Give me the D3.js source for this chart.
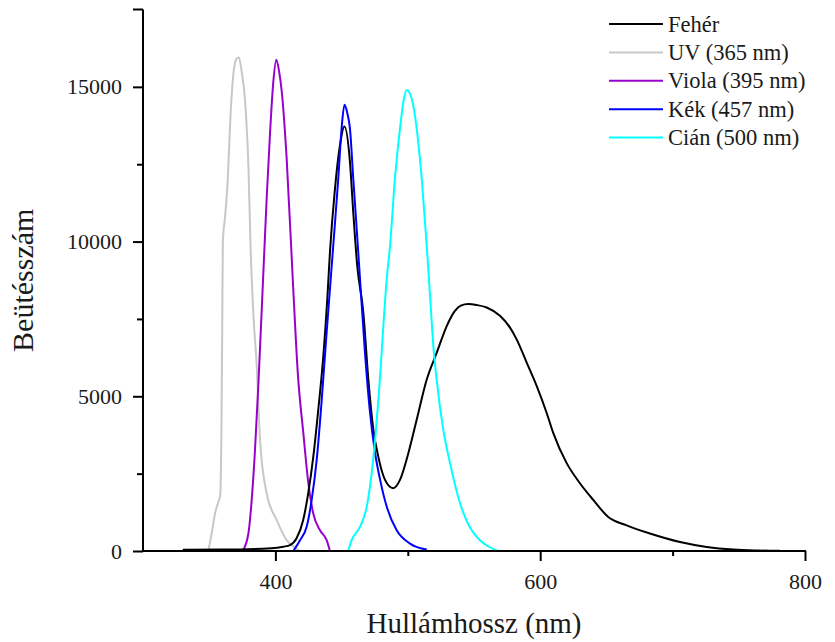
<!DOCTYPE html>
<html>
<head>
<meta charset="utf-8">
<script src="https://cdn.jsdelivr.net/npm/d3@7"></script>
<style>
  html, body { margin: 0; padding: 0; background: #fff; }
  svg { display: block; }
  text { font-family: "Liberation Serif", "Times New Roman", serif; fill: #1a1a1a; }
</style>
</head>
<body>
<svg id="chart" width="835" height="642"></svg>
<script>
// ---- data (wavelength nm, counts) ----
const seriesNames = ["Fehér", "UV (365 nm)", "Viola (395 nm)", "Kék (457 nm)", "Cián (500 nm)"];
const seriesColors = ["#000000", "#c8c8c8", "#9900cc", "#0000ff", "#00ffff"];

const feherX = [330, 360, 397, 406, 411, 416, 421, 424.8, 428.6, 432.4, 436.2, 439.2, 441.2, 445, 448.8, 452.1, 456.3, 458.8, 461.8, 466.4, 470.2, 474, 477.7, 482.8, 489, 494.1, 500.4, 506.7, 514.3, 521.8, 529.4, 535.6, 540, 545.7, 552, 559.6, 569.6, 577.2, 582.2, 589.8, 597.4, 604.9, 609.9, 620, 630, 640.1, 651.4, 665.3, 682.9, 705.6, 725.8, 745.9, 765, 781];
const feherY = [40, 45, 90, 140, 190, 410, 1000, 1870, 3040, 4570, 6300, 8140, 9650, 11710, 13120, 13720, 12580, 10950, 9220, 7710, 5540, 3920, 3050, 2300, 2030, 2300, 3160, 4240, 5540, 6400, 7270, 7760, 7930, 7980, 7950, 7870, 7600, 7220, 6840, 6090, 5330, 4460, 3810, 2840, 2190, 1650, 1100, 830, 565, 290, 130, 45, 15, 5];

const uvX = [349.3, 352, 354.4, 357, 358.3, 359.2, 359.8, 360.3, 362, 364, 366, 368, 370.5, 372.5, 374.5, 377, 379.6, 381.3, 383.3, 385.9, 388.4, 393.4, 401, 408.5, 416, 418.6];
const uvY = [0, 600, 1210, 1600, 1800, 3800, 7000, 10000, 10800, 12000, 14000, 15300, 15900, 15950, 15500, 14600, 12460, 9760, 7710, 5970, 3590, 1860, 1000, 350, 80, 0];

const violaX = [375.3, 379.6, 382.1, 384.6, 387.2, 389.7, 393.4, 396, 398.5, 400.7, 402.8, 404.8, 408.5, 413.6, 417, 421.1, 424.9, 428.6, 433.7, 438.7, 441.2];
const violaY = [0, 565, 1650, 3270, 5440, 7820, 11390, 13550, 15200, 15880, 15500, 14850, 12690, 8360, 5700, 3810, 2190, 1210, 670, 350, 0];

const kekX = [413.5, 418.6, 423.6, 427.4, 431.2, 435, 438.7, 443.7, 447.5, 450, 452.2, 454.3, 456.3, 458.8, 461.4, 463.9, 467.5, 471.5, 475.3, 479.1, 484.1, 491.6, 501.7, 514.3];
const kekY = [0, 350, 780, 1650, 2950, 4890, 7060, 9870, 12040, 13660, 14420, 14150, 13660, 12040, 10410, 8790, 6500, 4460, 3160, 2300, 1430, 670, 240, 45];

const cianX = [455, 457.6, 463.9, 469, 472.7, 475.3, 477.8, 484.1, 486.6, 490.3, 494.1, 497, 499.2, 502.9, 506.7, 510.5, 514.3, 516.8, 519.3, 521.8, 526.8, 531.9, 539.4, 544.2, 549, 554.5, 560, 568.4];
const cianY = [0, 350, 780, 1430, 2510, 3590, 4890, 8790, 9870, 12040, 13660, 14600, 14900, 14630, 13660, 12040, 9870, 8250, 6620, 5540, 3920, 2840, 1550, 1000, 620, 350, 170, 0];

const xTicksMajor = [400, 600, 800];
const xTicksMinor = [500, 700];
const yTicksMajor = [0, 5000, 10000, 15000];
const yTicksMinor = [2500, 7500, 12500];
const xTitle = "Hullámhossz (nm)";
const yTitle = "Beütésszám";

// ---- build ----
(function () {
const seriesX = [feherX, uvX, violaX, kekX, cianX];
const seriesY = [feherY, uvY, violaY, kekY, cianY];
const series = seriesNames.map((name, i) => ({
  name, color: seriesColors[i],
  points: seriesX[i].map((xv, j) => ({ x: xv, y: seriesY[i][j] }))
}));

const svg = d3.select("#chart");
const pL = 143, pR = 805, pT = 9.5, pB = 551;

const x = d3.scaleLinear().domain([300, 800]).range([pL, pR]);
const y = d3.scaleLinear().domain([0, 17500]).range([pB, pT]);

const line = d3.line().x(d => x(d.x)).y(d => y(d.y)).curve(d3.curveMonotoneX);

const drawOrder = [1, 2, 0, 3, 4];
svg.append("g").selectAll("path")
  .data(drawOrder.map(i => series[i]))
  .join("path")
  .attr("d", d => line(d.points))
  .attr("fill", "none")
  .attr("stroke", d => d.color)
  .attr("stroke-width", 2)
  .attr("stroke-linejoin", "round");

const xAxis = svg.append("g").attr("transform", `translate(0,${pB})`)
  .call(d3.axisBottom(x).tickValues(xTicksMajor).tickSize(10).tickPadding(12).tickFormat(d3.format("d")));
const xMinor = svg.append("g").attr("transform", `translate(0,${pB})`)
  .call(d3.axisBottom(x).tickValues(xTicksMinor).tickSize(5).tickFormat(""));
const yAxis = svg.append("g").attr("transform", `translate(${pL},0)`)
  .call(d3.axisLeft(y).tickValues(yTicksMajor).tickSize(10).tickPadding(11).tickFormat(d3.format("d")));
const yMinor = svg.append("g").attr("transform", `translate(${pL},0)`)
  .call(d3.axisLeft(y).tickValues(yTicksMinor).tickSize(6).tickFormat(""));

[xAxis, xMinor, yAxis, yMinor].forEach(g => {
  g.select(".domain").remove();
  g.selectAll(".tick line").attr("stroke", "#000").attr("stroke-width", 2);
  g.selectAll(".tick text")
    .attr("font-family", "Liberation Serif, serif")
    .attr("font-size", 22).attr("fill", "#1a1a1a");
});

svg.append("line").attr("x1", pL).attr("x2", pL).attr("y1", pT).attr("y2", pB + 1)
  .attr("stroke", "#000").attr("stroke-width", 2);
svg.append("line").attr("x1", pL - 1).attr("x2", pR + 1).attr("y1", pB).attr("y2", pB)
  .attr("stroke", "#000").attr("stroke-width", 2);
svg.append("line").attr("x1", pL - 10).attr("x2", pL).attr("y1", pT).attr("y2", pT)
  .attr("stroke", "#000").attr("stroke-width", 2);

svg.append("text").attr("x", (pL + pR) / 2).attr("y", 633)
  .attr("text-anchor", "middle").attr("font-size", 29).text(xTitle);
svg.append("text").attr("transform", `translate(33,${(pT + pB) / 2}) rotate(-90)`)
  .attr("text-anchor", "middle").attr("font-size", 30).text(yTitle);

const lg = svg.append("g");
series.forEach((s, i) => {
  const ry = 24 + i * 28.4;
  lg.append("line").attr("x1", 609).attr("x2", 663).attr("y1", ry).attr("y2", ry)
    .attr("stroke", s.color).attr("stroke-width", 2);
  lg.append("text").attr("x", 668).attr("y", ry + 7.5).attr("font-size", 22.5).text(s.name);
});
})();
</script>
</body>
</html>
